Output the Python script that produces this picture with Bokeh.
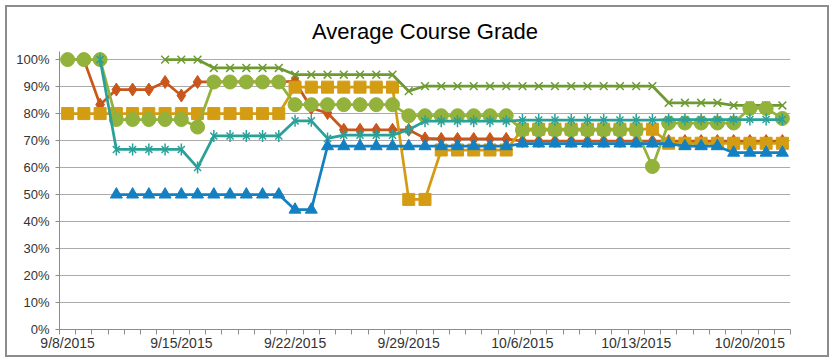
import math
import pandas as pd
from bokeh.plotting import figure
from bokeh.models import Range1d, FixedTicker
from bokeh.embed import file_html
from bokeh.resources import INLINE

# ---------------- data ----------------
start_date = "2015-09-08"
end_date = "2015-10-22"
dates = pd.date_range(start_date, end_date, freq="D")

tick_dates = ["2015-09-08", "2015-09-15", "2015-09-22", "2015-09-29",
              "2015-10-06", "2015-10-13", "2015-10-20"]
tick_labels = ["9/8/2015", "9/15/2015", "9/22/2015", "9/29/2015",
               "10/6/2015", "10/13/2015", "10/20/2015"]

y_ticks = [0.0, 0.1, 0.2, 0.3, 0.4, 0.5, 0.6, 0.7, 0.8, 0.9, 1.0]
y_labels = ["0%", "10%", "20%", "30%", "40%", "50%", "60%", "70%", "80%", "90%", "100%"]

N = None
# orange diamonds
orange = [100, 100, 83.3, 88.9, 88.9, 88.9, 91.7, 86.7, 91.7, 91.7, 91.7, 91.7, 91.7, 91.7,
          92.0, 82.0, 80.2, 74.0, 74.0, 74.0, 74.0, 74.0, 70.8, 70.6, 70.6, 70.6, 70.6, 70.6,
          69.8, 69.8, 69.8, 69.8, 69.8, 69.8, 69.8, 69.8, 69.8, 69.8, 69.8, 69.8, 69.8, 69.8,
          69.8, 69.8, 69.8]
# gold squares
gold = [80, 80, 80, 80, 80, 80, 80, 80, 80, 80, 80, 80, 80, 80,
        89.8, 89.8, 89.8, 89.8, 89.8, 89.8, 89.8, 48.2, 48.2, 66.5, 66.5, 66.5, 66.5, 66.5,
        74.2, 74.2, 74.2, 74.2, 74.2, 74.2, 74.2, 74.2, 74.2, 69.0, 69.0, 69.0, 69.0, 69.0,
        69.0, 69.0, 69.0]
# olive crosses
olive = [N, N, N, N, N, N, 100, 100, 100, 96.9, 96.9, 96.9, 96.9, 96.9,
         94.4, 94.4, 94.4, 94.4, 94.4, 94.4, 94.4, 88.3, 90.2, 90.2, 90.2, 90.2, 90.2, 90.2,
         90.2, 90.2, 90.2, 90.2, 90.2, 90.2, 90.2, 90.2, 90.2, 84.0, 84.0, 84.0, 84.0, 83.0,
         83.0, 83.0, 83.0]
# green circles
green = [100, 100, 100, 77.8, 77.8, 77.8, 77.8, 77.8, 75.0, 91.7, 91.7, 91.7, 91.7, 91.7,
         83.3, 83.3, 83.3, 83.3, 83.3, 83.3, 83.3, 79.2, 79.2, 79.2, 79.2, 79.2, 79.2, 79.2,
         73.9, 73.9, 73.9, 73.9, 73.9, 73.9, 73.9, 73.9, 60.4, 76.5, 76.5, 76.5, 76.5, 76.5,
         81.9, 81.9, 78.2]
# teal stars
teal = [N, N, 100, 66.7, 66.7, 66.7, 66.7, 66.7, 60.0, 71.7, 71.7, 71.7, 71.7, 71.7,
        77.3, 77.3, 70.8, 72.0, 72.0, 72.0, 72.0, 74.0, 77.2, 77.2, 77.2, 77.2, 77.2, 77.2,
        77.6, 77.6, 77.6, 77.6, 77.6, 77.6, 77.6, 77.6, 77.6, 77.8, 77.8, 77.8, 77.8, 77.8,
        77.8, 77.8, 77.8]
# blue triangles
blue = [N, N, N, 50, 50, 50, 50, 50, 50, 50, 50, 50, 50, 50,
        44.4, 44.4, 67.9, 67.9, 67.9, 67.9, 67.9, 67.9, 67.9, 67.9, 67.9, 67.9, 67.9, 67.9,
        68.9, 68.9, 68.9, 68.9, 68.9, 68.9, 68.9, 68.9, 68.9, 68.9, 67.9, 67.9, 67.9, 65.5,
        65.5, 65.5, 65.5]

# ---------------- helpers ----------------
x = [(d - dates[0]).days for d in dates]
tick_x = [(pd.Timestamp(t) - dates[0]).days for t in tick_dates]


def frac(vals):
    return [float("nan") if v is None else v / 100.0 for v in vals]


p = figure(width=820, height=348, output_backend="svg", toolbar_location=None,
           x_range=Range1d(-0.5, len(x) - 0.5), y_range=Range1d(0, 1.03),
           min_border_left=52, min_border_right=41, min_border_top=44, min_border_bottom=30,
           styles={"margin-left": "5px", "margin-top": "5px",
                   "border": "2px solid #8c8c8c", "box-sizing": "content-box"})

p.title.text = "Average Course Grade"
p.title.align = "center"
p.title.text_font = "Liberation Sans"
p.title.text_font_size = "22px"
p.title.text_font_style = "normal"
p.title.text_color = "#000000"
p.title.standoff = 16

p.outline_line_color = None
p.xgrid.grid_line_color = None
p.ygrid.grid_line_color = "#ababab"
p.ygrid.grid_line_width = 1
p.ygrid.ticker = FixedTicker(ticks=y_ticks)

# x axis
p.xaxis.ticker = FixedTicker(ticks=tick_x, minor_ticks=[i - 0.5 for i in range(len(x) + 1)])
p.xaxis.major_label_overrides = {tx: lab for tx, lab in zip(tick_x, tick_labels)}
p.xaxis.major_tick_out = 0
p.xaxis.major_tick_in = 0
p.xaxis.minor_tick_out = 5
p.xaxis.minor_tick_in = 0
p.xaxis.minor_tick_line_color = "#8c8c8c"
p.xaxis.axis_line_color = "#8c8c8c"
p.xaxis.major_label_standoff = 0
p.xaxis.major_label_text_font = "Liberation Sans"
p.xaxis.major_label_text_font_size = "14px"
p.xaxis.major_label_text_color = "#333333"

# y axis
p.yaxis.ticker = FixedTicker(ticks=y_ticks)
p.yaxis.major_label_overrides = {t: lab for t, lab in zip(y_ticks, y_labels)}
p.yaxis.major_tick_out = 4
p.yaxis.major_tick_in = 0
p.yaxis.minor_tick_line_color = None
p.yaxis.axis_line_color = "#8c8c8c"
p.yaxis.major_tick_line_color = "#8c8c8c"
p.yaxis.major_label_standoff = 6
p.yaxis.major_label_text_font = "Liberation Sans"
p.yaxis.major_label_text_font_size = "13px"
p.yaxis.major_label_text_color = "#333333"

LW = 2.75

# orange diamonds
c = "#C9561A"
p.line(x, frac(orange), line_color=c, line_width=LW)
p.scatter(x, frac(orange), marker="diamond", size=13, fill_color=c, line_color=c)

# gold squares
c = "#D39C12"
p.line(x, frac(gold), line_color=c, line_width=LW)
p.scatter(x, frac(gold), marker="square", size=12, fill_color=c, line_color=c)

# olive crosses
c = "#6E9A33"
p.line(x, frac(olive), line_color=c, line_width=LW)
p.scatter(x, frac(olive), marker="x", size=11, line_color=c, line_width=1.5)

# green circles
c = "#92B23B"
p.line(x, frac(green), line_color=c, line_width=LW)
p.scatter(x, frac(green), marker="circle", size=14, fill_color=c, line_color=c)

# teal stars
c = "#2AA198"
p.line(x, frac(teal), line_color=c, line_width=LW)
p.scatter(x, frac(teal), marker="x", size=10, line_color=c, line_width=1.5)
p.scatter(x, frac(teal), marker="dash", size=12, angle=math.pi / 2, line_color=c, line_width=1.5)

# blue triangles
c = "#1380C2"
p.line(x, frac(blue), line_color=c, line_width=LW)
p.scatter(x, frac(blue), marker="triangle", size=12, fill_color=c, line_color=c)

open("out.html", "w").write(file_html(p, INLINE))
